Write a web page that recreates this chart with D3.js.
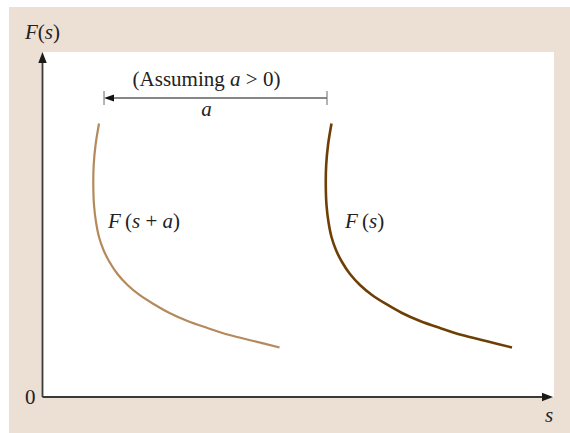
<!DOCTYPE html>
<html><head><meta charset="utf-8">
<script src="https://cdn.jsdelivr.net/npm/d3@7"></script>
<style>html,body{margin:0;padding:0;background:#fff}svg{display:block}</style>
</head><body>
<script>
// Data (s-units 0..100, F-units 0..100)
const curveFs_s   = [56.61,55.93,55.57,55.49,55.63,56.02,56.61,57.49,58.67,60.23,62.19,64.54,67.29,70.42,73.95,77.86,82.17,86.88,91.97];
const curveFs_F   = [79.28,73.04,67.25,61.45,55.65,50.72,46.38,42.61,39.13,35.65,32.46,29.57,26.96,24.35,22.03,20.00,17.97,16.23,14.35];
const curveFsa_s  = [11.07,10.39,10.03,9.95,10.09,10.48,11.07,11.95,13.13,14.69,16.65,19.00,21.75,24.88,28.41,32.32,36.63,41.34,46.43];
const curveFsa_F  = [79.28,73.04,67.25,61.45,55.65,50.72,46.38,42.61,39.13,35.65,32.46,29.57,26.96,24.35,22.03,20.00,17.97,16.23,14.35];
const shiftBracket = [12.05, 55.73];
const bracketLevel = 86.67;

const W = 570, H = 433;
const svg = d3.select("body").append("svg").attr("width", W).attr("height", H);
const font = "'Liberation Serif','Times New Roman',serif";

svg.append("rect").attr("x", 9).attr("y", 7).attr("width", W - 9).attr("height", H - 7).attr("fill", "#ecdfd3");

const x = d3.scaleLinear().domain([0, 100]).range([42.5, 553]);
const y = d3.scaleLinear().domain([0, 100]).range([397, 52]);

svg.append("rect").attr("x", x(0)).attr("y", y(100)).attr("width", 554 - x(0)).attr("height", y(0) - y(100)).attr("fill", "#fff");

// curves
const line = d3.line().x(d => x(d[0])).y(d => y(d[1])).curve(d3.curveCatmullRom.alpha(0.5));
svg.append("path").attr("d", line(d3.zip(curveFsa_s, curveFsa_F)))
  .attr("fill", "none").attr("stroke", "#b48a5c").attr("stroke-width", 2.2);
svg.append("path").attr("d", line(d3.zip(curveFs_s, curveFs_F)))
  .attr("fill", "none").attr("stroke", "#6e3f05").attr("stroke-width", 2.6);

// axes
const axisCol = "#3a3a3a";
svg.append("line").attr("x1", x(0)).attr("y1", y(0)).attr("x2", x(0)).attr("y2", y(100) + 8)
  .attr("stroke", axisCol).attr("stroke-width", 1.8);
svg.append("line").attr("x1", x(0)).attr("y1", y(0)).attr("x2", x(100) - 8).attr("y2", y(0))
  .attr("stroke", axisCol).attr("stroke-width", 1.8);
svg.append("path").attr("d", `M${x(0)},${y(100)} L${x(0) - 4.2},${y(100) + 11} L${x(0) + 4.2},${y(100) + 11} Z`).attr("fill", "#1a1a1a");
svg.append("path").attr("d", `M${x(100)},${y(0)} L${x(100) - 11},${y(0) - 4.2} L${x(100) - 11},${y(0) + 4.2} Z`).attr("fill", "#1a1a1a");

// bracket
const bx1 = x(shiftBracket[0]), bx2 = x(shiftBracket[1]), by = y(bracketLevel);
svg.append("line").attr("x1", bx1 + 6).attr("y1", by).attr("x2", bx2).attr("y2", by).attr("stroke", "#111").attr("stroke-width", 1.1);
svg.append("path").attr("d", `M${bx1},${by} L${bx1 + 10},${by - 3.6} L${bx1 + 10},${by + 3.6} Z`).attr("fill", "#111");
[bx1, bx2].forEach(bx => svg.append("line").attr("x1", bx).attr("y1", by - 7).attr("x2", bx).attr("y2", by + 7)
  .attr("stroke", "#777").attr("stroke-width", 1.1));

function label(px, py, parts, anchor) {
  const t = svg.append("text").attr("x", px).attr("y", py).attr("font-family", font)
    .attr("font-size", 21).attr("fill", "#222").attr("text-anchor", anchor || "start");
  parts.forEach(p => t.append("tspan").attr("font-style", p[1] ? "italic" : "normal").text(p[0]));
  return t;
}
label(25, 39, [["F", 1], ["(", 0], ["s", 1], [")", 0]]);
label(206.5, 86, [["(Assuming ", 0], ["a", 1], [" > 0)", 0]], "middle");
label(206.5, 116, [["a", 1]], "middle");
label(108, 228, [["F", 1], ["\u2009(", 0], ["s", 1], [" + ", 0], ["a", 1], [")", 0]]);
label(345, 228, [["F", 1], ["\u2009(", 0], ["s", 1], [")", 0]]);
label(25, 404, [["0", 0]]);
label(545, 422, [["s", 1]]);
</script>
</body></html>
